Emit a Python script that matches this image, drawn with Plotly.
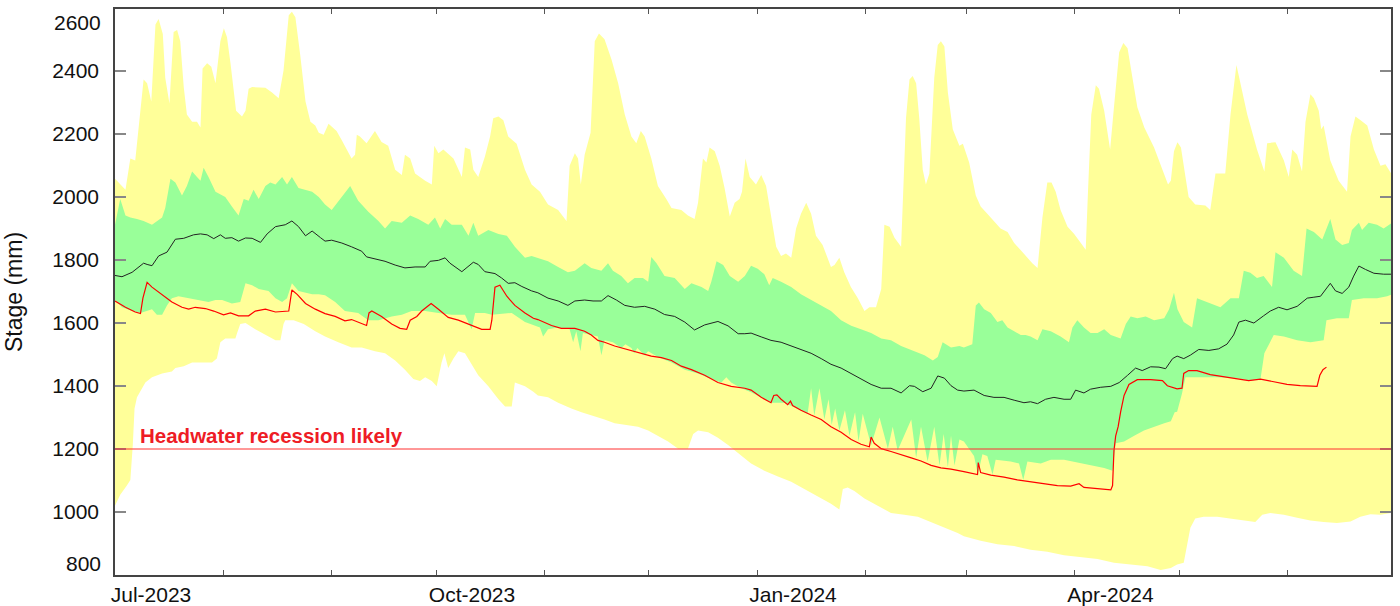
import pandas as pd
import plotly.graph_objects as go

START = pd.Timestamp("2023-07-01")

# ---- Historic maximum (top of yellow band); x = days since 1 Jul 2023 ----
max_day = [0, 3.0, 4.4, 5.8, 8.2, 9.2, 10.4, 11.6, 12.5, 13.7, 14.4, 15.6, 16.8, 17.8, 18.7, 19.7,
           20.6, 22.1, 23.5, 24.5, 25.1, 26.4, 27.6, 28.8, 30.2, 31.2, 32.1, 33.1, 34.7, 36.4, 37.4,
           38.3, 39.3, 43.1, 45.0, 46.9, 48.3, 49.8, 50.7, 51.7, 53.1, 54.6, 56.0, 57.4, 58.4, 59.8,
           61.2, 63.5, 65.0, 67.8, 68.8, 69.3, 70.2, 72.1, 74.5, 76.4, 78.3, 80.3, 82.2, 83.1, 84.6,
           86.0, 88.9, 90.8, 91.5, 92.7, 94.1, 97.0, 99.4, 100.3, 101.8, 102.7, 104.1, 106.0, 107.5,
           108.4, 109.9, 111.3, 112.7, 115.1, 117.5, 119.4, 121.8, 124.1, 127.0, 129.4, 130.3, 131.8,
           132.7, 133.5, 134.6, 135.6, 136.3, 137.5, 138.7, 140.3, 142.3, 144.2, 146.1, 148.0, 149.4,
           150.7, 151.8, 153.7, 155.6, 158.0, 159.5, 162.3, 164.2, 166.1, 167.1, 168.5, 169.5, 170.4,
           171.9, 173.3, 174.7, 176.2, 177.6, 179.0, 179.7, 180.7, 181.9, 183.7, 185.2, 186.6, 188.0,
           189.5, 190.9, 192.3, 193.8, 195.2, 196.6, 198.1, 199.5, 200.9, 202.8, 205.2, 206.2, 207.6,
           209.0, 210.9, 212.9, 214.8, 216.2, 218.1, 219.6, 220.5, 222.0, 223.4, 225.3, 226.1, 226.7,
           227.7, 228.6, 229.6, 230.5, 231.5, 232.4, 233.4, 234.8, 235.8, 236.7, 237.7, 238.7, 240.1,
           242.0, 243.0, 244.8, 246.7, 248.1, 250.0, 252.0, 253.8, 255.8, 257.7, 259.6, 261.5, 262.9,
           264.4, 265.8, 267.2, 268.4, 269.6, 271.0, 273.0, 274.9, 276.8, 278.2, 278.9, 279.8, 281.1,
           282.0, 283.5, 285.2, 286.3, 287.8, 289.0, 290.2, 291.6, 293.0, 295.0, 297.8, 300.2, 301.8,
           302.6, 303.5, 304.5, 305.5, 306.8, 307.7, 309.6, 312.5, 313.9, 315.4, 318.2, 319.7, 321.4,
           322.5, 324.5, 327.3, 329.4, 330.2, 332.6, 335.0, 336.4, 337.4, 338.8, 340.2, 341.2, 342.6,
           343.6, 345.0, 345.7, 346.4, 348.3, 350.7, 353.1, 354.1, 355.5, 357.0, 358.9, 360.8, 362.7,
           364.1, 366.0]
max_mm = [2058, 2023, 2122, 2116, 2373, 2361, 2303, 2548, 2565, 2518, 2379, 2297, 2524, 2530, 2495, 2349,
          2262, 2239, 2239, 2221, 2408, 2425, 2414, 2361, 2495, 2536, 2507, 2425, 2274, 2256, 2274,
          2344, 2349, 2347, 2332, 2314, 2402, 2577, 2588, 2571, 2449, 2303, 2239, 2227, 2204, 2198,
          2233, 2210, 2180, 2122, 2134, 2198, 2192, 2171, 2210, 2175, 2163, 2087, 2070, 2134, 2122,
          2075, 2052, 2040, 2163, 2139, 2151, 2122, 2064, 2157, 2151, 2087, 2064, 2128, 2192,
          2250, 2256, 2244, 2192, 2169, 2087, 2040, 2017, 1976, 1959, 1924, 2099, 2139,
          2122, 2040, 2134, 2180, 2204, 2495, 2519, 2501, 2437, 2361, 2262, 2192, 2171,
          2210, 2192, 2122, 2035, 1994, 1965, 1959, 1941, 1930, 1982, 2122, 2110, 2157,
          2145, 2099, 2029, 1938, 1982, 1994, 2017, 2122, 2064, 2040, 2070, 2035, 1935,
          1842, 1813, 1821, 1807, 1900, 1947, 1982, 1947, 1877, 1848, 1778, 1784, 1807,
          1761, 1714, 1679, 1638, 1650, 1650, 1708, 1912, 1906, 1871, 1842, 2087, 2250,
          2373, 2384, 2361, 2250, 2087, 2040, 2075, 2379, 2483, 2495, 2478, 2332, 2215,
          2163, 2169, 2110, 2005, 1970, 1947, 1924, 1900, 1889, 1854, 1831, 1807, 1790,
          1775, 1935, 2046, 2046, 2017, 1959, 1906, 1883, 1854, 1833, 2029, 2262, 2355,
          2344, 2274, 2151, 2285, 2460, 2489, 2472, 2379, 2285, 2221, 2157, 2087, 2040,
          2052, 2145, 2174, 2157, 2064, 2000, 1976, 1973, 1959, 2075, 2075, 2262, 2419,
          2361, 2262, 2151, 2081, 2171, 2174, 2116, 2064, 2151, 2134, 2081, 2239, 2326,
          2314, 2274, 2215, 2227, 2116, 2052, 2017, 2192, 2256, 2244, 2227, 2151, 2099,
          2104, 2070]

# ---- Historic minimum (bottom of yellow band) ----
min_day = [0, 1.5, 3.4, 4.4, 5.1, 5.6, 6.3, 8.7, 10.6, 13.5, 16.3, 17.3, 19.7, 22.1, 25.0, 27.8, 29.2,
           30.2, 31.6, 34.5, 35.0, 35.9, 37.4, 40.2, 43.1, 46.0, 47.4, 48.3, 48.8, 51.2, 54.1, 57.4,
           60.2, 64.0, 67.8, 70.7, 74.5, 77.4, 80.3, 83.1, 85.5, 87.4, 88.9, 90.8, 92.2, 93.6, 94.4,
           95.5, 97.0, 98.4, 100.3, 102.2, 104.1, 107.0, 109.9, 111.8, 113.7, 114.6, 117.5, 119.9,
           121.2, 124.1, 127.0, 130.8, 133.7, 136.5, 140.3, 143.2, 146.1, 149.9, 152.8, 155.6, 158.5,
           161.4, 164.2, 165.7, 167.1, 170.0, 172.8, 175.7, 178.6, 181.0, 182.3, 186.1, 190.0, 193.8,
           197.6, 201.4, 205.2, 207.6, 208.6, 210.0, 211.9, 214.8, 218.6, 222.4, 226.2, 230.1, 233.9,
           237.7, 241.5, 243.3, 248.1, 252.9, 257.7, 262.4, 267.2, 272.0, 276.8, 281.6, 286.3, 291.1,
           295.9, 299.7, 302.6, 304.4, 306.3, 307.3, 308.2, 309.6, 312.0, 315.9, 319.7, 323.5, 326.8,
           328.8, 331.1, 335.0, 338.8, 342.6, 346.4, 350.2, 354.1, 356.9, 359.8, 362.7, 366.0]
min_mm = [1020, 1055, 1084, 1102, 1213, 1329, 1364, 1411, 1428, 1440, 1446, 1457, 1463, 1475, 1475, 1475, 1487,
          1539, 1551, 1551, 1568, 1597, 1600, 1580, 1562, 1545, 1545, 1597, 1609, 1609, 1597, 1574,
          1557, 1539, 1522, 1522, 1510, 1504, 1481, 1452, 1422, 1416, 1428, 1416, 1399, 1475, 1504,
          1457, 1487, 1510, 1504, 1469, 1434, 1399, 1358, 1335, 1335, 1411, 1399, 1382,
          1370, 1364, 1347, 1329, 1317, 1306, 1294, 1282, 1277, 1271, 1259, 1242, 1224,
          1201, 1201, 1248, 1259, 1253, 1236, 1213, 1189, 1166, 1154, 1131, 1113, 1096,
          1073, 1049, 1026, 1008, 1073, 1078, 1067, 1043, 1020, 997, 991, 985, 968,
          950, 933, 923, 909, 898, 892, 880, 874, 863, 857, 851, 839, 833,
          828, 816, 822, 833, 839, 898, 950, 979, 985, 985, 979, 973, 968,
          991, 997, 991, 982, 973, 968, 965, 970, 985, 993, 991, 997]

# ---- Upper percentile (top of green band) ----
hi_day = [0, 1.5, 3.0, 4.4, 6.3, 8.2, 10.6, 13.5, 14.4, 15.9, 17.3, 19.2, 20.6, 22.1, 23.5, 24.5, 25.4,
          26.8, 28.8, 31.6, 33.5, 35.4, 36.9, 38.3, 39.7, 41.2, 43.1, 44.5, 46.0, 47.9, 49.3, 50.7,
          52.6, 54.6, 56.5, 58.4, 60.2, 62.1, 64.5, 67.4, 69.7, 72.6, 75.5, 77.4, 79.3, 82.2, 84.6,
          86.9, 89.8, 91.7, 93.2, 94.6, 96.5, 99.4, 101.3, 102.7, 104.1, 107.0, 109.9, 112.3, 114.6,
          117.5, 119.4, 121.2, 124.1, 127.0, 129.8, 131.8, 134.6, 136.5, 139.4, 141.3, 142.7, 145.1,
          147.0, 148.9, 151.3, 152.8, 153.7, 155.2, 157.5, 160.4, 163.3, 165.2, 168.1, 170.0, 170.9,
          172.4, 174.3, 176.2, 178.6, 180.5, 181.9, 182.3, 184.2, 186.1, 187.5, 188.5, 190.9, 193.8,
          196.6, 199.5, 202.4, 205.2, 208.1, 211.0, 213.8, 216.7, 219.6, 222.4, 225.3, 229.1, 232.0,
          234.4, 235.8, 237.2, 239.6, 242.0, 243.3, 245.7, 246.7, 247.6, 249.1, 251.0, 252.9, 254.3,
          255.8, 257.7, 259.6, 261.0, 262.4, 264.4, 265.8, 268.2, 271.0, 273.4, 274.4, 275.8, 277.7,
          279.6, 281.6, 283.5, 285.4, 288.2, 289.7, 291.1, 293.0, 295.4, 297.8, 300.7, 302.1, 303.5,
          304.5, 306.3, 308.7, 310.1, 313.9, 316.8, 319.7, 322.1, 323.5, 325.4, 327.3, 329.2, 331.6,
          332.6, 335.0, 337.8, 340.2, 341.5, 343.6, 346.0, 348.3, 349.8, 351.7, 353.6, 354.5, 356.5,
          357.4, 359.3, 361.7, 363.6, 366.0]
hi_mm = [1912, 1994, 1941, 1935, 1930, 1924, 1912, 1935, 1965, 2058, 2046, 2005, 2035, 2081, 2064, 2052, 2093,
         2064, 2017, 2000, 1970, 1941, 1994, 1988, 2023, 1994, 2035, 2046, 2040, 2064, 2040, 2064,
         2029, 2023, 2017, 2000, 1976, 1959, 1994, 2035, 1988, 1953, 1924, 1900, 1924, 1918, 1941,
         1930, 1912, 1935, 1900, 1930, 1912, 1912, 1877, 1918, 1877, 1895, 1883, 1877, 1842,
         1807, 1813, 1807, 1796, 1778, 1761, 1766, 1790, 1775, 1766, 1790, 1766, 1749,
         1726, 1743, 1743, 1731, 1810, 1790, 1749, 1743, 1708, 1726, 1714, 1702, 1731,
         1796, 1784, 1749, 1731, 1749, 1778, 1782, 1772, 1755, 1720, 1743, 1731, 1714,
         1691, 1673, 1656, 1638, 1609, 1591, 1580, 1568, 1551, 1545, 1527, 1510, 1498,
         1481, 1492, 1539, 1522, 1527, 1522, 1533, 1656, 1665, 1644, 1632, 1603, 1609,
         1586, 1574, 1562, 1562, 1557, 1545, 1580, 1574, 1557, 1539, 1586, 1609, 1586,
         1568, 1568, 1580, 1562, 1551, 1597, 1621, 1615, 1621, 1609, 1615, 1644, 1696,
         1644, 1603, 1586, 1679, 1662, 1650, 1679, 1679, 1766, 1760, 1743, 1749, 1714,
         1825, 1807, 1766, 1749, 1900, 1889, 1865, 1930, 1865, 1848, 1854, 1895, 1918,
         1895, 1918, 1912, 1900, 1918]

# ---- Lower percentile (bottom of green band) ----
lo_day = [0, 2.0, 4.9, 7.3, 8.7, 10.6, 12.0, 13.5, 14.9, 16.3, 18.2, 21.1, 24.0, 26.8, 28.8, 30.7, 33.5,
          35.9, 37.4, 39.3, 41.2, 44.0, 46.0, 47.9, 49.3, 50.7, 52.6, 54.6, 56.5, 58.4, 60.2, 63.1,
          65.9, 69.7, 72.6, 75.5, 79.3, 82.2, 85.0, 88.9, 92.7, 96.5, 100.3, 102.2, 103.2, 106.0,
          108.0, 113.7, 117.5, 121.8, 122.7, 124.1, 127.0, 130.3, 131.3, 132.2, 133.4, 134.1, 136.5,
          138.4, 139.4, 140.3, 142.7, 145.1, 146.3, 148.0, 148.8, 149.7, 151.8, 152.8, 155.6, 159.5,
          163.3, 167.1, 170.9, 173.8, 175.2, 176.6, 179.5, 182.3, 188.0, 191.8, 196.6, 198.5, 199.5,
          200.4, 201.9, 203.3, 204.5, 205.4, 206.4, 207.6, 209.2, 210.5, 212.1, 213.1, 214.3, 216.7,
          219.1, 221.5, 222.9, 224.3, 228.2, 229.6, 231.0, 232.9, 234.8, 236.3, 237.5, 238.7, 239.6,
          240.6, 242.0, 243.3, 246.2, 247.3, 248.6, 250.0, 251.5, 252.4, 256.7, 259.1, 260.3, 261.5,
          265.3, 268.2, 272.0, 275.8, 279.6, 283.5, 285.9, 286.8, 289.2, 292.1, 294.9, 297.8, 300.7,
          302.6, 303.7, 304.4, 305.8, 306.8, 310.1, 315.9, 321.6, 325.4, 328.3, 329.4, 332.1, 335.0,
          338.8, 342.6, 346.4, 347.2, 350.2, 353.6, 354.5, 357.9, 361.7, 364.6, 366.0]
lo_mm = [1673, 1650, 1638, 1632, 1638, 1644, 1626, 1626, 1656, 1679, 1685, 1679, 1673, 1667, 1673, 1673, 1662,
         1667, 1726, 1720, 1708, 1702, 1679, 1667, 1679, 1726, 1702, 1696, 1691, 1691, 1688, 1667,
         1638, 1632, 1609, 1609, 1621, 1626, 1638, 1638, 1632, 1626, 1626, 1580, 1632, 1632,
         1626, 1632, 1603, 1586, 1557, 1580, 1586, 1580, 1539, 1574, 1510, 1568, 1562,
         1557, 1498, 1545, 1539, 1521, 1533, 1521, 1504, 1521, 1498, 1510, 1492, 1475,
         1452, 1440, 1422, 1411, 1428, 1411, 1393, 1380, 1347, 1347, 1323, 1312, 1393,
         1306, 1393, 1294, 1358, 1277, 1329, 1259, 1323, 1242, 1317, 1224, 1312, 1212,
         1300, 1201, 1271, 1195, 1294, 1172, 1271, 1160, 1271, 1148, 1248, 1142, 1242,
         1148, 1230, 1224, 1178, 1119, 1183, 1178, 1119, 1166, 1160, 1154, 1102, 1160,
         1154, 1166, 1166, 1157, 1148, 1140, 1131, 1218, 1224, 1242, 1259, 1271, 1282,
         1288, 1317, 1318, 1376, 1428, 1428, 1428, 1425, 1417, 1422, 1504, 1562, 1557,
         1545, 1539, 1545, 1609, 1615, 1615, 1673, 1679, 1679, 1685, 1691]

# ---- Median (black line) ----
med_day = [0, 2.0, 4.9, 8.2, 9.2, 10.6, 12.5, 14.9, 17.3, 19.7, 22.5, 24.5, 26.4, 28.3, 30.2, 31.6, 33.5,
           35.4, 37.4, 39.3, 41.7, 43.6, 46.0, 48.8, 50.7, 52.6, 54.6, 56.5, 58.9, 60.2, 62.1, 65.0,
           67.8, 70.7, 72.1, 74.0, 77.4, 80.3, 83.1, 86.0, 88.9, 90.3, 92.7, 94.6, 96.0, 99.4, 102.7,
           104.1, 106.0, 108.9, 110.8, 112.7, 114.6, 116.6, 119.4, 121.2, 124.1, 127.0, 129.8, 131.8,
           134.6, 137.0, 139.4, 141.3, 143.7, 146.1, 148.9, 151.8, 154.7, 157.5, 160.4, 163.3, 166.1,
           169.0, 172.8, 175.7, 178.6, 180.5, 182.3, 185.2, 188.0, 190.9, 193.8, 196.6, 199.5, 202.4,
           205.2, 208.1, 211.0, 213.8, 216.7, 219.6, 222.4, 225.3, 227.7, 229.1, 231.5, 233.9, 235.8,
           237.7, 239.6, 241.5, 243.3, 246.2, 249.1, 251.9, 254.8, 257.7, 260.5, 262.4, 264.4, 266.7,
           269.1, 272.0, 273.9, 275.3, 277.7, 279.6, 282.5, 285.4, 287.8, 290.2, 292.5, 294.4, 296.8,
           299.2, 301.1, 303.1, 304.4, 306.3, 308.2, 310.6, 313.5, 316.3, 318.7, 320.6, 322.1, 324.0,
           326.4, 329.2, 331.1, 333.5, 335.9, 338.8, 341.7, 343.6, 345.5, 348.3, 349.8, 351.7, 353.6,
           355.0, 356.5, 358.4, 360.8, 363.6, 366.0]
med_mm = [1751, 1747, 1761, 1790, 1786, 1782, 1813, 1825, 1866, 1869, 1880, 1883, 1880, 1868, 1880, 1869, 1871,
          1860, 1870, 1869, 1856, 1883, 1906, 1912, 1924, 1906, 1877, 1892, 1871, 1860, 1863, 1854,
          1842, 1828, 1810, 1805, 1796, 1784, 1775, 1778, 1778, 1796, 1799, 1807, 1790, 1763, 1793,
          1786, 1763, 1757, 1743, 1726, 1728, 1716, 1702, 1696, 1679, 1670, 1656, 1670,
          1673, 1670, 1670, 1687, 1673, 1656, 1650, 1653, 1644, 1627, 1621, 1603, 1578,
          1594, 1605, 1591, 1566, 1566, 1568, 1556, 1545, 1539, 1527, 1516, 1504, 1487,
          1469, 1457, 1440, 1422, 1405, 1393, 1393, 1378, 1401, 1399, 1382, 1393, 1432,
          1425, 1401, 1387, 1384, 1387, 1370, 1364, 1364, 1355, 1347, 1350, 1344, 1358,
          1364, 1358, 1358, 1387, 1378, 1390, 1396, 1399, 1411, 1434, 1457, 1449, 1461,
          1460, 1455, 1487, 1495, 1487, 1498, 1516, 1513, 1518, 1533, 1562, 1603, 1609,
          1600, 1623, 1638, 1650, 1642, 1653, 1679, 1682, 1685, 1726, 1702, 1694, 1714,
          1749, 1781, 1770, 1758, 1755, 1755]

# ---- Current year stage (red line) ----
cur_day = [0, 3.0, 5.8, 7.3, 8.0, 9.2, 10.6, 13.5, 16.3, 19.2, 21.1, 23.0, 25.9, 28.3, 31.1, 33.1, 35.4,
           38.3, 40.2, 43.1, 46.0, 49.8, 50.1, 50.7, 52.2, 54.6, 57.4, 60.2, 63.1, 65.9, 67.8, 69.7,
           72.1, 72.8, 73.6, 76.4, 79.3, 81.7, 83.6, 84.6, 86.5, 87.9, 90.6, 92.7, 95.5, 98.4, 102.2,
           105.1, 107.5, 108.0, 108.9, 110.3, 112.3, 114.6, 117.5, 119.9, 121.2, 125.1, 127.9, 131.8,
           134.6, 136.5, 138.4, 140.3, 143.2, 146.1, 149.9, 153.7, 156.6, 159.5, 162.3, 165.2, 169.0,
           172.8, 176.6, 180.5, 182.3, 185.2, 188.0, 188.8, 189.7, 190.9, 192.8, 193.6, 194.2, 196.6,
           199.5, 202.4, 205.2, 208.1, 211.0, 213.8, 216.2, 216.7, 217.6, 219.6, 222.4, 225.3, 228.2,
           231.0, 233.9, 236.7, 239.6, 243.3, 247.2, 247.4, 248.1, 251.0, 254.8, 258.6, 262.4, 266.3,
           270.1, 273.9, 276.3, 277.7, 281.6, 285.4, 285.9, 286.3, 286.8, 287.5, 288.2, 289.2, 290.6,
           293.0, 296.8, 300.2, 301.6, 303.5, 304.4, 305.8, 306.3, 307.7, 310.1, 313.9, 318.7, 324.9,
           328.3, 332.1, 335.9, 339.7, 342.6, 344.5, 345.3, 346.2, 347.2]
cur_mm = [1670, 1650, 1635, 1630, 1679, 1729, 1714, 1691, 1667, 1650, 1644, 1650, 1646, 1638, 1626, 1632, 1623,
          1623, 1638, 1644, 1635, 1638, 1667, 1705, 1691, 1662, 1644, 1630, 1621, 1607, 1611, 1603,
          1592, 1632, 1638, 1621, 1597, 1583, 1580, 1609, 1621, 1638, 1662, 1644, 1618, 1609, 1592,
          1580, 1580, 1609, 1714, 1720, 1685, 1656, 1632, 1615, 1611, 1592, 1583, 1583,
          1574, 1562, 1545, 1539, 1527, 1518, 1506, 1495, 1490, 1481, 1463, 1452, 1434,
          1411, 1399, 1393, 1387, 1364, 1347, 1370, 1372, 1358, 1341, 1352, 1338, 1323,
          1308, 1294, 1271, 1253, 1230, 1215, 1207, 1238, 1218, 1201, 1192, 1183, 1172,
          1162, 1148, 1140, 1136, 1128, 1119, 1157, 1125, 1117, 1111, 1102, 1096, 1090,
          1084, 1082, 1090, 1078, 1075, 1070, 1084, 1195, 1242, 1271, 1317, 1370, 1405,
          1420, 1420, 1417, 1401, 1393, 1391, 1393, 1440, 1449, 1449, 1436, 1428, 1417,
          1422, 1413, 1405, 1401, 1399, 1399, 1434, 1452, 1460]

threshold_mm = 1200
threshold_label = "Headwater recession likely"

month_ticks = pd.date_range("2023-07-01", "2024-07-01", freq="MS")
month_text = [d.strftime("%b-%Y") if d.month in (1, 4, 7, 10) and d.year * 100 + d.month < 202407 else ""
              for d in month_ticks]
y_ticks = [1000, 1200, 1400, 1600, 1800, 2000, 2200, 2400]
y_edge_labels = ["800", "2600"]

FONT = "Liberation Sans, Arial"


def to_dates(days):
    return START + pd.to_timedelta(days, unit="D")


def band(up_day, up_val, lo_day_, lo_val):
    x = list(to_dates(up_day)) + list(to_dates(lo_day_))[::-1]
    y = list(up_val) + list(lo_val)[::-1]
    return x, y


fig = go.Figure()

bx, by = band(max_day, max_mm, min_day, min_mm)
fig.add_trace(go.Scatter(x=bx, y=by, fill="toself", fillcolor="#FFFF99", mode="lines",
                         line=dict(width=0), hoverinfo="skip", showlegend=False))
gx, gy = band(hi_day, hi_mm, lo_day, lo_mm)
fig.add_trace(go.Scatter(x=gx, y=gy, fill="toself", fillcolor="#99FF99", mode="lines",
                         line=dict(width=0), hoverinfo="skip", showlegend=False))
fig.add_trace(go.Scatter(x=to_dates(med_day), y=med_mm, mode="lines",
                         line=dict(color="#222222", width=1), showlegend=False))
fig.add_trace(go.Scatter(x=to_dates(cur_day), y=cur_mm, mode="lines",
                         line=dict(color="#FF0000", width=1.2), showlegend=False))

fig.add_shape(type="line", xref="paper", x0=0, x1=1, yref="y", y0=threshold_mm, y1=threshold_mm,
              line=dict(color="#FF3030", width=1))
fig.add_annotation(x=to_dates([6.6])[0], y=threshold_mm, xref="x", yref="y", text=threshold_label,
                   showarrow=False, xanchor="left", yanchor="bottom", yshift=0,
                   font=dict(family=FONT, size=20.5, color="#EE1C25", weight="bold"))

fig.add_annotation(x=0, y=800, xref="paper", yref="y", text=y_edge_labels[0], showarrow=False,
                   xanchor="right", yanchor="middle", xshift=-12, yshift=12,
                   font=dict(family=FONT, size=21, color="#111111"))
fig.add_annotation(x=0, y=1, xref="paper", yref="paper", text=y_edge_labels[1], showarrow=False,
                   xanchor="right", yanchor="middle", xshift=-12, yshift=-13,
                   font=dict(family=FONT, size=21, color="#111111"))

fig.update_layout(
    width=1400, height=606,
    margin=dict(l=115, r=9, t=9, b=31, autoexpand=False),
    paper_bgcolor="white", plot_bgcolor="white",
    font=dict(family=FONT, size=21, color="#111111"),
    showlegend=False,
)
fig.update_xaxes(
    range=[START, to_dates([365.7])[0]],
    tickvals=month_ticks, ticktext=month_text,
    ticks="inside", ticklen=5, tickcolor="#555555", tickwidth=1,
    ticklabelshift=36, ticklabelstandoff=0,
    tickfont=dict(size=21),
    showline=True, linecolor="#444444", linewidth=1.5, mirror="ticks",
    showgrid=False, zeroline=False, automargin=False,
)
fig.update_yaxes(
    range=[800, 2597],
    tickvals=y_ticks, ticktext=[str(v) for v in y_ticks],
    ticks="inside", ticklen=11, tickcolor="#888888", tickwidth=1.5,
    ticklabelstandoff=10,
    tickfont=dict(size=21),
    showline=True, linecolor="#444444", linewidth=1.5, mirror="ticks",
    showgrid=False, zeroline=False, automargin=False,
    title=dict(text="Stage (mm)", standoff=23, font=dict(size=23)),
)

fig.write_html("out.html", config={"displayModeBar": False},
               post_script="document.body.style.margin='0px';")
